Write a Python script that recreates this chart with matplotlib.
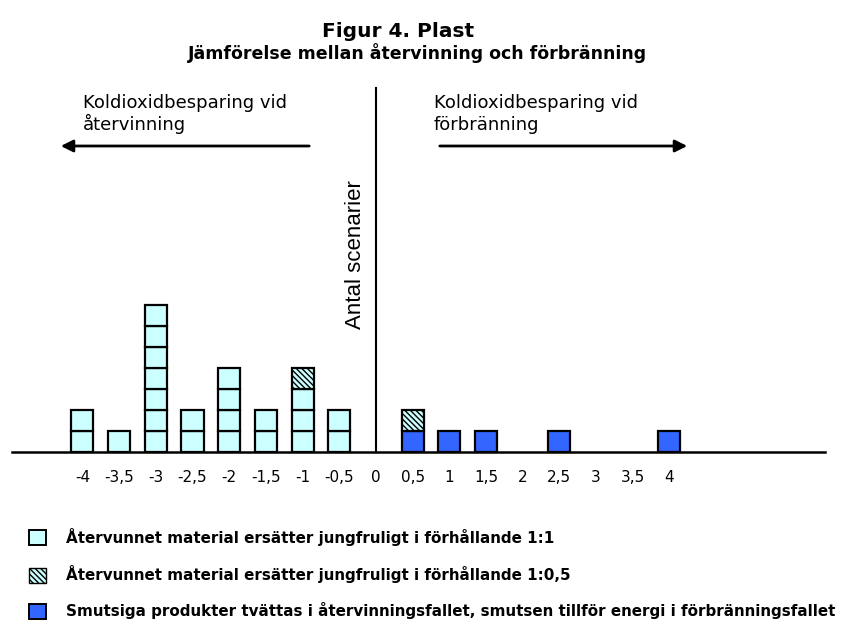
import matplotlib
matplotlib.use("Agg")
import matplotlib.pyplot as plt
from matplotlib.patches import Patch, FancyArrowPatch

# values
x_vals = [-4, -3.5, -3, -2.5, -2, -1.5, -1, -0.5, 0, 0.5, 1, 1.5, 2, 2.5, 3, 3.5, 4]
tick_labels = ["-4", "-3,5", "-3", "-2,5", "-2", "-1,5", "-1", "-0,5", "0",
               "0,5", "1", "1,5", "2", "2,5", "3", "3,5", "4"]
dirty = [0, 0, 0, 0, 0, 0, 0, 0, 0, 1, 1, 1, 0, 1, 0, 0, 1]
ratio_1_1 = [2, 1, 7, 2, 4, 2, 3, 2, 0, 0, 0, 0, 0, 0, 0, 0, 0]
ratio_1_05 = [0, 0, 0, 0, 0, 0, 1, 0, 0, 1, 0, 0, 0, 0, 0, 0, 0]

labels = ["Återvunnet material ersätter jungfruligt i förhållande 1:1",
          "Återvunnet material ersätter jungfruligt i förhållande 1:0,5",
          "Smutsiga produkter tvättas i återvinningsfallet, smutsen tillför energi i förbränningsfallet"]

W, H = 854, 624
fig = plt.figure(figsize=(W / 100, H / 100), dpi=100)
fig.patch.set_facecolor("white")
plt.rcParams["hatch.color"] = "#2f4f4f"
plt.rcParams["hatch.linewidth"] = 1.0


def fx(px):
    return px / W


def fy(py):
    return 1 - py / H


ax = fig.add_axes([fx(12), fy(452), fx(825 - 12), (452 - 88) / H])

cyan = "#ccffff"
blue = "#3366ff"
bw = 0.30

# stack unit squares: blue at the bottom, then 1:1, then 1:0,5 hatched
bottom = [0] * len(x_vals)
series = [(dirty, dict(color=blue)),
          (ratio_1_1, dict(color=cyan)),
          (ratio_1_05, dict(color=cyan, hatch="\\" * 6))]
for counts, style in series:
    for i, n in enumerate(counts):
        for k in range(n):
            ax.bar(x_vals[i], 1, width=bw, bottom=bottom[i] + k,
                   edgecolor="black", linewidth=1.6, zorder=3, **style)
        bottom[i] += n

ax.set_xlim(-4.96, 6.12)
ax.set_ylim(0, 364 / 21)
for s in ["top", "right"]:
    ax.spines[s].set_visible(False)
ax.spines["left"].set_position(("data", 0))
ax.spines["left"].set_linewidth(1.5)
ax.spines["bottom"].set_linewidth(1.8)
ax.set_yticks([])
ax.set_xticks(x_vals)
ax.set_xticklabels(tick_labels, fontsize=11, family="DejaVu Sans")
ax.tick_params(axis="x", length=0, pad=13)

fig.text(fx(356), fy(255), "Antal scenarier", rotation=90, ha="center", va="center",
         fontsize=16, family="Liberation Sans")

# titles
fig.text(fx(398), fy(37), "Figur 4. Plast", ha="center", va="baseline",
         fontsize=14.5, fontweight="bold")
fig.text(fx(418), fy(59), "Jämförelse mellan återvinning och förbränning",
         ha="center", va="baseline", fontsize=12.5, fontweight="bold")

# direction notes
for x0, lines in [(83, ["Koldioxidbesparing vid", "återvinning"]),
                  (434, ["Koldioxidbesparing vid", "förbränning"])]:
    fig.text(fx(x0), fy(108), lines[0], ha="left", va="baseline", fontsize=13)
    fig.text(fx(x0), fy(130), lines[1], ha="left", va="baseline", fontsize=13)

arrow = dict(arrowstyle="-|>", lw=2, color="black", mutation_scale=18)
fig.add_artist(FancyArrowPatch((fx(312), fy(146)), (fx(58), fy(146)),
                               transform=fig.transFigure, **arrow))
fig.add_artist(FancyArrowPatch((fx(437), fy(146)), (fx(690), fy(146)),
                               transform=fig.transFigure, **arrow))

handles = [Patch(facecolor=cyan, edgecolor="black", linewidth=1.4),
           Patch(facecolor=cyan, edgecolor="black", linewidth=1.0, hatch="\\" * 6),
           Patch(facecolor=blue, edgecolor="black", linewidth=1.4)]
fig.legend(handles, labels, loc="upper left", bbox_to_anchor=(fx(29), fy(528)),
           frameon=False, prop=dict(weight="bold", size=10.9), borderpad=0,
           borderaxespad=0, handlelength=1.15, handleheight=1.15,
           handletextpad=1.3, labelspacing=1.27)

fig.savefig("out.png", dpi=100, facecolor="white")
